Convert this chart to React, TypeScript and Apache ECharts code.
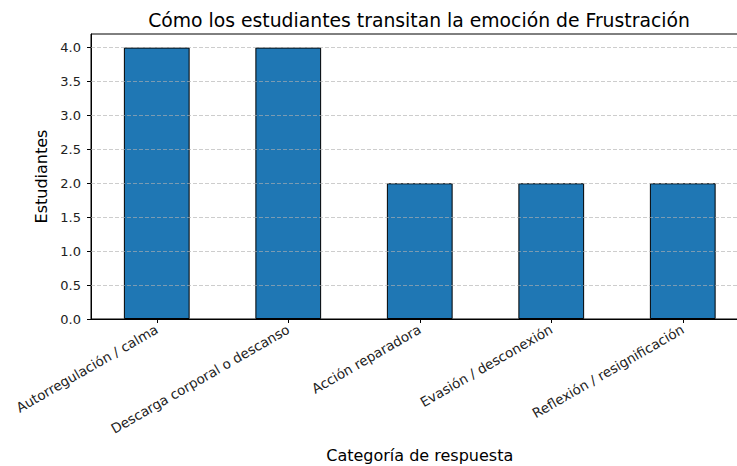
import React, { useEffect, useRef } from "react";
import * as echarts from "echarts";

const categories = [
  "Autorregulación / calma",
  "Descarga corporal o descanso",
  "Acción reparadora",
  "Evasión / desconexión",
  "Reflexión / resignificación",
];
const values = [4, 4, 2, 2, 2];
const yTicks = [0, 0.5, 1.0, 1.5, 2.0, 2.5, 3.0, 3.5, 4.0];
const yMax = 4.2;
const titleText = "Cómo los estudiantes transitan la emoción de Frustración";
const xName = "Categoría de respuesta";
const yName = "Estudiantes";

const FONT = "DejaVu Sans";

export default function App() {
  const ref = useRef<HTMLDivElement>(null);
  useEffect(() => {
    document.body.style.margin = "0";
    const chart = echarts.init(ref.current!, null, { renderer: "svg" });
    chart.setOption({
      animation: false,
      backgroundColor: "#ffffff",
      textStyle: { fontFamily: FONT },
      title: {
        text: titleText,
        left: 414,
        top: 6,
        textAlign: "center",
        textStyle: { fontFamily: FONT, fontSize: 18.8, fontWeight: "normal", color: "#000" },
      },
      grid: {
        left: 91,
        width: 657.5,
        top: 34,
        height: 285,
        outerBoundsMode: "none",
        containLabel: false,
        show: true,
        borderColor: "#000",
        borderWidth: 1,
        backgroundColor: "transparent",
      },
      xAxis: {
        type: "category",
        data: categories,
        name: xName,
        nameLocation: "middle",
        nameGap: 128,
        nameTextStyle: { fontFamily: FONT, fontSize: 16, color: "#000" },
        axisLine: { show: true, lineStyle: { color: "#000", width: 1 } },
        axisTick: { show: true, alignWithLabel: true, length: 4, lineStyle: { color: "#000" } },
        axisLabel: {
          rotate: 30,
          interval: 0,
          margin: 9,
          fontFamily: FONT,
          fontSize: 13.5,
          color: "#222",
        },
        splitLine: { show: false },
      },
      yAxis: {
        type: "value",
        min: 0,
        max: yMax,
        interval: 0.5,
        name: yName,
        nameLocation: "middle",
        nameGap: 32,
        nameTextStyle: { fontFamily: FONT, fontSize: 16, color: "#000" },
        axisLine: { show: true, lineStyle: { color: "#000", width: 1 } },
        axisTick: { show: true, length: 4, lineStyle: { color: "#000" }, customValues: yTicks },
        axisLabel: {
          customValues: yTicks,
          formatter: (v: number) => v.toFixed(1),
          fontFamily: FONT,
          fontSize: 13,
          color: "#222",
          margin: 10,
        },
        splitLine: { show: false },
      },
      series: [
        {
          type: "bar",
          data: values,
          barWidth: "50%",
          itemStyle: { color: "#1f77b4", borderColor: "#000", borderWidth: 1 },
          markLine: {
            silent: true,
            symbol: ["none", "none"],
            label: { show: false },
            lineStyle: { color: "#b0b0b0", type: [4, 2], width: 0.8, opacity: 0.8 },
            data: yTicks.filter((t) => t > 0).map((t) => ({ yAxis: t })),
          },
        },
      ],
    });
    return () => chart.dispose();
  }, []);
  return <div ref={ref} style={{ width: 737, height: 466 }} />;
}
